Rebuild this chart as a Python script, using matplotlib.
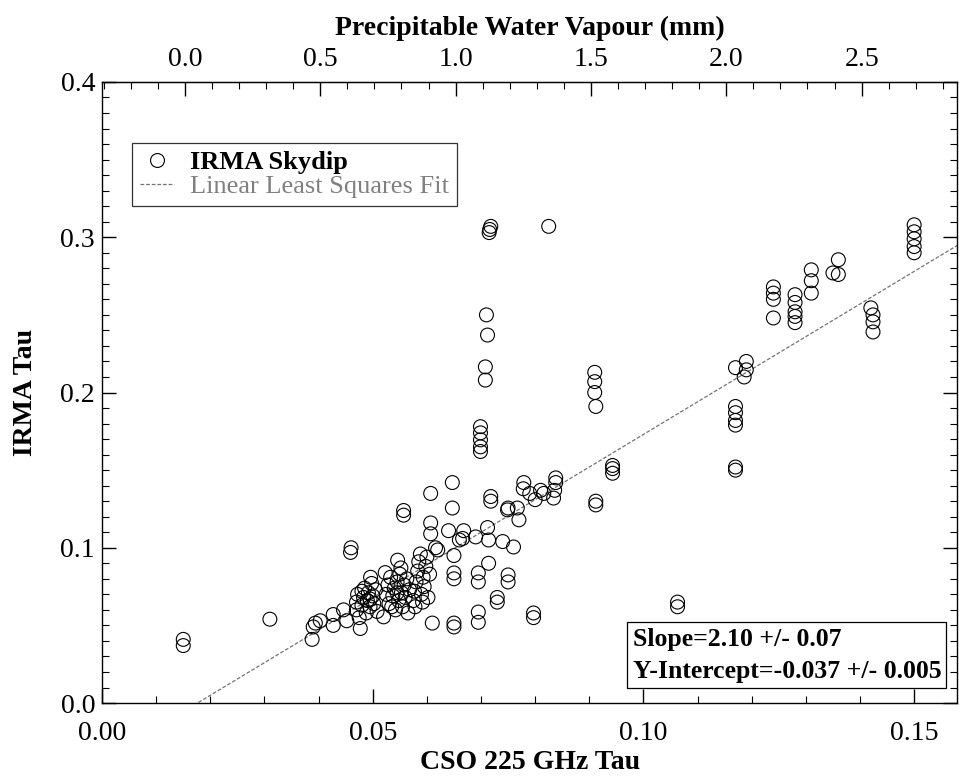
"""
IRMA skydip tau vs CSO 225 GHz tau, with linear least squares fit.
"""

import numpy as np
import matplotlib
matplotlib.use("Agg")
import matplotlib.pyplot as plt
from matplotlib.ticker import MultipleLocator, FixedLocator, FormatStrFormatter
from matplotlib.lines import Line2D

plt.rcParams['font.family'] = ['Liberation Serif', 'DejaVu Serif']

# CSO 225 GHz tau (x) and IRMA tau (y)
cso_tau = [
    0.0150, 0.0150, 0.0310,
    0.0388, 0.0390, 0.0394, 0.0403, 0.0427, 0.0427, 0.0446, 0.0452, 0.0477,
    0.0459, 0.0460, 0.0496, 0.0523, 0.0546, 0.0520, 0.0592, 0.0557, 0.0557,
    # dense block 1
    0.0470, 0.0470, 0.0472, 0.0475, 0.0480, 0.0483, 0.0485, 0.0488, 0.0490,
    0.0492, 0.0495, 0.0498, 0.0500, 0.0502, 0.0505, 0.0508, 0.0480, 0.0495,
    # dense block 2
    0.0525, 0.0528, 0.0530, 0.0533, 0.0537, 0.0540, 0.0542, 0.0545, 0.0548,
    0.0550, 0.0553, 0.0555, 0.0558, 0.0560, 0.0563, 0.0565, 0.0568, 0.0545,
    0.0535, 0.0552,
    # dense block 3
    0.0575, 0.0577, 0.0580, 0.0583, 0.0585, 0.0588, 0.0590, 0.0593, 0.0595,
    0.0598, 0.0600, 0.0602, 0.0605, 0.0578,
    # middle
    0.0607, 0.0647, 0.0647, 0.0607, 0.0607, 0.0640, 0.0668, 0.0666, 0.0712,
    0.0718, 0.0718, 0.0740, 0.0760, 0.0714, 0.0695, 0.0695, 0.0650, 0.0650,
    0.0750, 0.0750, 0.0730, 0.0730, 0.0695, 0.0695, 0.0650, 0.0650, 0.0610,
    0.0797, 0.0797, 0.0616, 0.0650, 0.0779, 0.0778, 0.0750, 0.0770, 0.0790,
    0.0800, 0.0810, 0.0838, 0.0838, 0.0836, 0.0834, 0.0816, 0.0690, 0.0714,
    0.0767, 0.0749, 0.0912, 0.0912, 0.0620, 0.0660,
    # vertical stacks
    0.0699, 0.0699, 0.0699, 0.0699, 0.0699,
    0.0708, 0.0708, 0.0712, 0.0710,
    0.0715, 0.0718, 0.0716, 0.0825,
    0.0912, 0.0910, 0.0910, 0.0910,
    0.0943, 0.0943, 0.0943,
    0.1063, 0.1063,
    0.1170, 0.1170,
    0.1170, 0.1170, 0.1170, 0.1170,
    0.1186, 0.1190, 0.1190, 0.1170,
    0.1240, 0.1240, 0.1240, 0.1240,
    0.1280, 0.1280, 0.1280, 0.1280, 0.1280,
    0.1310, 0.1310, 0.1310,
    0.1350, 0.1360, 0.1360,
    0.1420, 0.1424, 0.1424, 0.1424,
    0.1500, 0.1500, 0.1500, 0.1500, 0.1500,
]
irma_tau = [
    0.037, 0.041, 0.054,
    0.041, 0.049, 0.0515, 0.053, 0.050, 0.057, 0.060, 0.053, 0.048,
    0.097, 0.100, 0.081, 0.084, 0.092, 0.0555, 0.065, 0.121, 0.124,
    # dense block 1
    0.060, 0.065, 0.070, 0.055, 0.063, 0.068, 0.074, 0.058, 0.066,
    0.071, 0.062, 0.077, 0.069, 0.064, 0.073, 0.059, 0.072, 0.067,
    # dense block 2
    0.070, 0.076, 0.064, 0.081, 0.069, 0.074, 0.060, 0.078, 0.066,
    0.083, 0.071, 0.062, 0.076, 0.068, 0.080, 0.058, 0.073, 0.071,
    0.062, 0.087,
    # dense block 3
    0.066, 0.072, 0.078, 0.085, 0.091, 0.096, 0.070, 0.081, 0.075,
    0.088, 0.094, 0.068, 0.083, 0.062,
    # middle
    0.135, 0.142, 0.1256, 0.116, 0.109, 0.111, 0.111, 0.106, 0.113,
    0.130, 0.133, 0.104, 0.1005, 0.090, 0.0838, 0.078, 0.0838, 0.080,
    0.0825, 0.078, 0.068, 0.065, 0.0586, 0.052, 0.0515, 0.049, 0.0515,
    0.058, 0.055, 0.100, 0.095, 0.142, 0.138, 0.1256, 0.118, 0.135,
    0.131, 0.137, 0.145, 0.142, 0.137, 0.132, 0.135, 0.107, 0.105,
    0.1256, 0.1244, 0.1276, 0.130, 0.0986, 0.105,
    # vertical stacks
    0.162, 0.165, 0.1695, 0.174, 0.178,
    0.208, 0.2165, 0.237, 0.250,
    0.303, 0.307, 0.305, 0.307,
    0.191, 0.200, 0.207, 0.213,
    0.148, 0.151, 0.153,
    0.062, 0.065,
    0.152, 0.150,
    0.179, 0.182, 0.187, 0.191,
    0.210, 0.2146, 0.220, 0.216,
    0.248, 0.260, 0.264, 0.268,
    0.245, 0.249, 0.252, 0.258, 0.263,
    0.264, 0.272, 0.279,
    0.277, 0.276, 0.2855,
    0.2545, 0.250, 0.2455, 0.239,
    0.290, 0.294, 0.299, 0.3035, 0.308,
]

# fit results printed on the plot
slope = 2.10
slope_err = 0.07
intercept = -0.037
intercept_err = 0.005

# CSO tau <-> PWV conversion for the top axis
tau_offset = 0.0153
tau_per_mm = 0.05
pwv_ticks = [0.0, 0.5, 1.0, 1.5, 2.0, 2.5]


def tau_to_pwv(t):
    return (np.asarray(t) - tau_offset) / tau_per_mm


def pwv_to_tau(p):
    return np.asarray(p) * tau_per_mm + tau_offset


fig = plt.figure(figsize=(9.59, 7.77), dpi=100)
ax = fig.add_axes([0.1064, 0.0952, 0.892, 0.7993])

ax.scatter(cso_tau, irma_tau, s=100, facecolors='none', edgecolors='black',
           linewidths=0.8, zorder=3)

xlim = (0.0, 0.158)
xfit = np.linspace(xlim[0], xlim[1], 200)
ax.plot(xfit, slope * xfit + intercept, color='0.45', linewidth=0.9,
        linestyle=(0, (3, 1.5)), zorder=2)

ax.set_xlim(*xlim)
ax.set_ylim(0.0, 0.4)

ax.xaxis.set_major_locator(MultipleLocator(0.05))
ax.xaxis.set_minor_locator(MultipleLocator(0.01))
ax.yaxis.set_major_locator(MultipleLocator(0.1))
ax.yaxis.set_minor_locator(MultipleLocator(0.01))
ax.xaxis.set_major_formatter(FormatStrFormatter('%.2f'))
ax.yaxis.set_major_formatter(FormatStrFormatter('%.1f'))
ax.tick_params(which='both', direction='in', right=True, labelsize=20)
ax.tick_params(which='major', length=10, width=1.0)
ax.tick_params(which='minor', length=5, width=0.8)
ax.tick_params(axis='x', pad=13)
ax.tick_params(axis='y', pad=5)

ax.set_xlabel("CSO 225 GHz Tau", fontsize=20, fontweight='bold', labelpad=3)
ax.set_ylabel("IRMA Tau", fontsize=20, fontweight='bold', labelpad=16)

# Top axis: precipitable water vapour
sec = ax.secondary_xaxis('top', functions=(tau_to_pwv, pwv_to_tau))
sec.xaxis.set_major_locator(FixedLocator(pwv_ticks))
sec.xaxis.set_minor_locator(MultipleLocator(0.1))
sec.xaxis.set_major_formatter(FormatStrFormatter('%.1f'))
sec.tick_params(which='both', direction='in', labelsize=20, pad=7)
sec.tick_params(which='major', length=10, width=1.0)
sec.tick_params(which='minor', length=5, width=0.8)
sec.set_xlabel("Precipitable Water Vapour (mm)", fontsize=20,
               fontweight='bold', labelpad=9)

for sp in ax.spines.values():
    sp.set_linewidth(1.0)

# Legend
handles = [
    Line2D([], [], marker='o', linestyle='none', markerfacecolor='none',
           markeredgecolor='black', markersize=10, markeredgewidth=0.8),
    Line2D([], [], color='0.45', linewidth=0.9, linestyle=(0, (3, 1.5))),
]
leg = ax.legend(handles, ["IRMA Skydip", "Linear Least Squares Fit"],
                loc='upper left', bbox_to_anchor=(0.035, 0.902),
                borderaxespad=0, fontsize=19, frameon=True, fancybox=False,
                edgecolor='black', handlelength=1.3, handletextpad=0.6,
                labelspacing=0.02, borderpad=0.3)
leg.get_frame().set_linewidth(0.9)
texts = leg.get_texts()
texts[0].set_fontweight('bold')
texts[1].set_color('0.5')

# Fit result box
ax.text(0.981, 0.033,
        f"Slope={slope:.2f} +/- {slope_err:.2f}\n"
        f"Y-Intercept={intercept:.3f} +/- {intercept_err:.3f}",
        transform=ax.transAxes, ha='right', va='bottom', fontsize=18.5,
        fontweight='bold', linespacing=1.5, multialignment='left',
        bbox=dict(boxstyle='square,pad=0.2', facecolor='white',
                  edgecolor='black', linewidth=0.9), zorder=5)

plt.savefig("out.png", dpi=100)
plt.close()
